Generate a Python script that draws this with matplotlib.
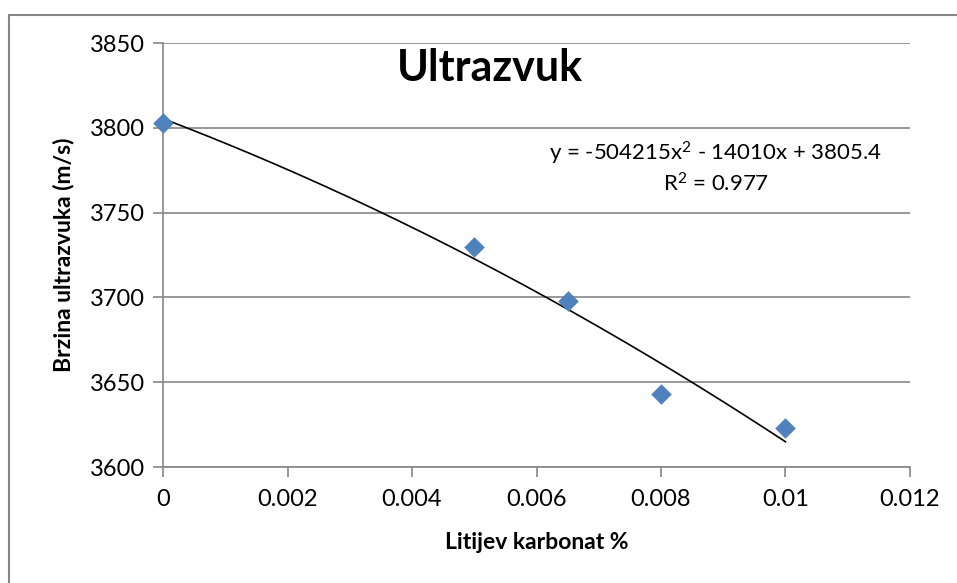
import numpy as np
import matplotlib.pyplot as plt
from matplotlib.patches import Rectangle

# Data
litij = [0.0, 0.005, 0.0065, 0.008, 0.01]
brzina = [3803, 3730, 3698, 3643, 3623]

# Trendline coefficients as shown on the chart (x^2, x, 1)
trend_coef = [-504215, -14010, 3805.4]
r2 = 0.977

x_ticks = [0, 0.002, 0.004, 0.006, 0.008, 0.01, 0.012]
x_tick_labels = ['0', '0.002', '0.004', '0.006', '0.008', '0.01', '0.012']
y_ticks = [3600, 3650, 3700, 3750, 3800, 3850]

plt.rcParams['font.family'] = ['Lato', 'DejaVu Sans']
plt.rcParams['mathtext.fontset'] = 'custom'
plt.rcParams['mathtext.rm'] = 'Lato'
plt.rcParams['mathtext.it'] = 'Lato'
plt.rcParams['mathtext.default'] = 'rm'

fig = plt.figure(figsize=(9.57, 5.83), dpi=100)
ax = fig.add_axes([163 / 957, 1 - 467 / 583, (910 - 163) / 957, (467 - 43) / 583])

grid_col = '#868686'

# outer chart border (only top and left are visible in the picture)
fig.patches.append(Rectangle((9 / 957, -0.1), 1.2, 1 - 15 / 583 + 0.1,
                             transform=fig.transFigure, fill=False,
                             edgecolor=grid_col, linewidth=1.5))

for y in y_ticks:
    ax.axhline(y, color=grid_col, linewidth=1.2, zorder=0)

# trendline
xt = np.linspace(min(litij), max(litij), 200)
ax.plot(xt, np.polyval(trend_coef, xt), color='black', linewidth=1.2, zorder=2)

ax.scatter(litij, brzina, marker='D', s=110, color='#4F81BD', zorder=3,
           linewidths=0, clip_on=False)

ax.set_xlim(0, 0.012)
ax.set_ylim(3600, 3850)
ax.set_xticks(x_ticks)
ax.set_xticklabels(x_tick_labels)
ax.set_yticks(y_ticks)

for s in ['top', 'right']:
    ax.spines[s].set_visible(False)
for s in ['left', 'bottom']:
    ax.spines[s].set_color(grid_col)
    ax.spines[s].set_linewidth(1.2)

ax.tick_params(axis='both', colors=grid_col, labelcolor='black', labelsize=17,
               length=7, width=1.2, direction='out')
ax.tick_params(axis='x', pad=9)
ax.tick_params(axis='y', pad=6)

ax.set_xlabel('Litijev karbonat %', fontsize=16.5, fontweight='bold', labelpad=16)
ax.set_ylabel('Brzina ultrazvuka (m/s)', fontsize=16.5, fontweight='bold', labelpad=11)

ax.text(0.438, 3835, 'Ultrazvuk', transform=ax.get_yaxis_transform(),
        ha='center', va='center', fontsize=31, fontweight='bold')

eq = 'y = -504215x$^{2}$ - 14010x + 3805.4'
ax.text(0.74, 3785, eq, transform=ax.get_yaxis_transform(),
        ha='center', va='center', fontsize=16)
ax.text(0.74, 3767, 'R$^{2}$ = %.3f' % r2, transform=ax.get_yaxis_transform(),
        ha='center', va='center', fontsize=16)

fig.savefig('out.png', dpi=100)
